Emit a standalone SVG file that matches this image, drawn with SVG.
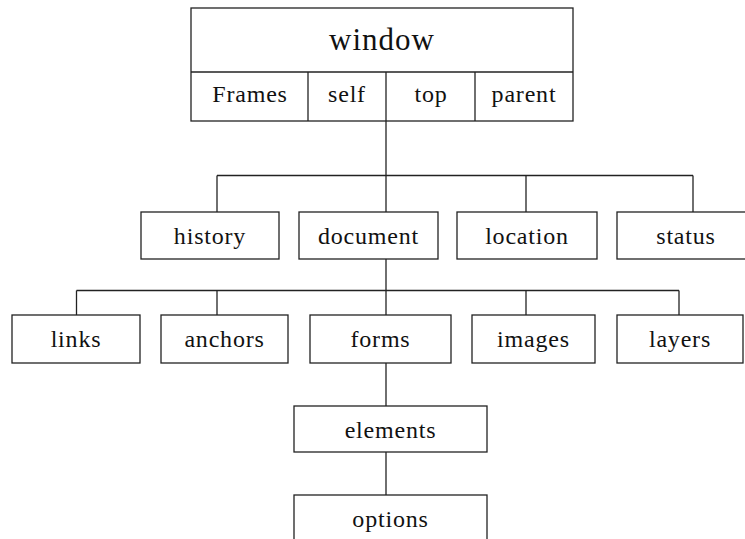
<svg xmlns="http://www.w3.org/2000/svg" width="745" height="539" viewBox="0 0 745 539">
<style>
rect{fill:#fff;stroke:#222;stroke-width:1.3}
.c line{stroke:#222;stroke-width:1.3}
text{font-family:"Liberation Serif","Times New Roman",serif;font-size:24px;fill:#111;text-anchor:middle;letter-spacing:0.8px}
.big{font-size:31px;letter-spacing:1px}
</style>
<rect x="0" y="0" width="745" height="539" style="stroke:none"/>
<g class="c" id="connectors">
<line x1="386" y1="121" x2="386" y2="212"/>
<line x1="217" y1="175.5" x2="693" y2="175.5"/>
<line x1="217" y1="175.5" x2="217" y2="212"/>
<line x1="526" y1="175.5" x2="526" y2="212"/>
<line x1="693" y1="175.5" x2="693" y2="212"/>
<line x1="386" y1="259" x2="386" y2="315"/>
<line x1="76.5" y1="290.5" x2="679" y2="290.5"/>
<line x1="76.5" y1="290.5" x2="76.5" y2="315"/>
<line x1="217" y1="290.5" x2="217" y2="315"/>
<line x1="526" y1="290.5" x2="526" y2="315"/>
<line x1="679" y1="290.5" x2="679" y2="315"/>
<line x1="386" y1="363" x2="386" y2="406"/>
<line x1="386" y1="452" x2="386" y2="495"/>
</g>
<g id="window">
<rect x="191" y="8" width="382" height="113"/>
<line x1="191" y1="72" x2="573" y2="72" style="stroke:#222;stroke-width:1.3"/>
<line x1="308" y1="72" x2="308" y2="121" style="stroke:#222;stroke-width:1.3"/>
<line x1="386" y1="72" x2="386" y2="121" style="stroke:#222;stroke-width:1.3"/>
<line x1="475" y1="72" x2="475" y2="121" style="stroke:#222;stroke-width:1.3"/>
<text class="big" x="382" y="50">window</text>
<text x="250" y="102">Frames</text>
<text x="347" y="102">self</text>
<text x="431" y="102">top</text>
<text x="524" y="102">parent</text>
</g>
<g id="history"><rect x="141" y="212" width="138" height="47"/><text x="210" y="244">history</text></g>
<g id="document"><rect x="299" y="212" width="139" height="47"/><text x="368.5" y="244">document</text></g>
<g id="location"><rect x="457" y="212" width="140" height="47"/><text x="527" y="244">location</text></g>
<g id="status"><rect x="617" y="212" width="138" height="47"/><text x="686" y="244">status</text></g>
<g id="links"><rect x="12" y="315" width="128" height="48"/><text x="76" y="347">links</text></g>
<g id="anchors"><rect x="161" y="315" width="127" height="48"/><text x="224.5" y="347">anchors</text></g>
<g id="forms"><rect x="310" y="315" width="141" height="48"/><text x="380.5" y="347">forms</text></g>
<g id="images"><rect x="472" y="315" width="123" height="48"/><text x="533.5" y="347">images</text></g>
<g id="layers"><rect x="617" y="315" width="126" height="48"/><text x="680" y="347">layers</text></g>
<g id="elements"><rect x="294" y="406" width="193" height="46"/><text x="390.5" y="438">elements</text></g>
<g id="options"><rect x="294" y="495" width="193" height="60"/><text x="390.5" y="527">options</text></g>
</svg>
